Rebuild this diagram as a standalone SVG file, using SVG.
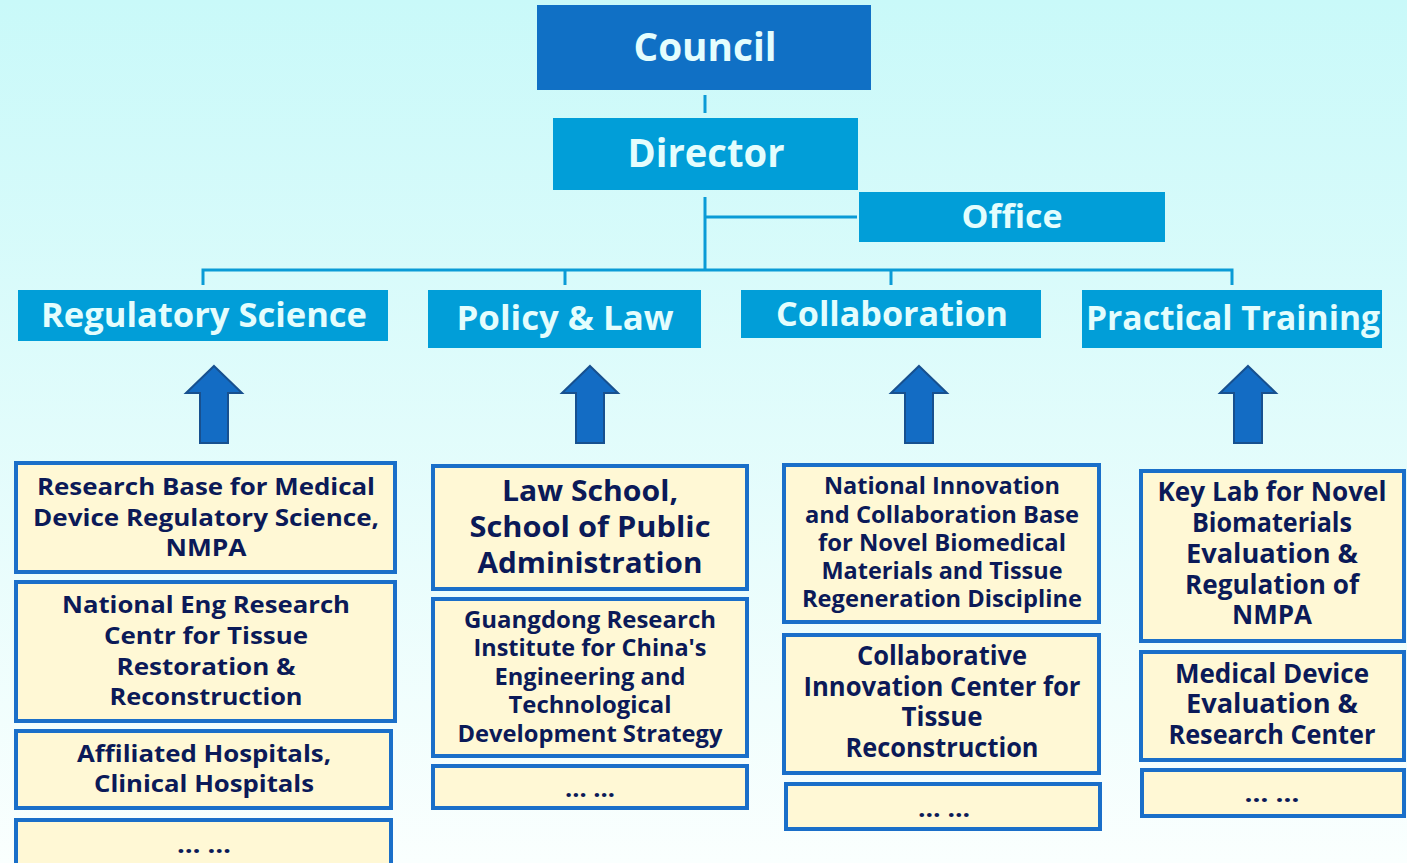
<svg xmlns="http://www.w3.org/2000/svg" width="1407" height="863" viewBox="0 0 1407 863">
<defs>
<linearGradient id="bg" x1="0" y1="0" x2="0" y2="1">
<stop offset="0" stop-color="#c9f9f9"/>
<stop offset="1" stop-color="#fafffe"/>
</linearGradient>
<style>
.hdr{fill:#019ed8}
.top{fill:#1070c5}
.ht{font-family:"Open Sans","Noto Sans",sans-serif;font-weight:bold;fill:#e4fdfd;text-anchor:middle;dominant-baseline:central}
.box{fill:#fff8d5;stroke:#1a6fc9;stroke-width:4}
.bt{font-family:"Open Sans","Noto Sans",sans-serif;font-weight:bold;fill:#0b1a58;text-anchor:middle;dominant-baseline:central}
.con{stroke:#0a9bd6;stroke-width:3;fill:none}
.arr{fill:#136cc4;stroke:#17508f;stroke-width:2}
</style>
</defs>
<rect width="1407" height="863" fill="url(#bg)"/>

<g id="connectors">
<line class="con" x1="705" y1="95" x2="705" y2="113"/>
<line class="con" x1="705" y1="197" x2="705" y2="270"/>
<line class="con" x1="705" y1="217" x2="857" y2="217"/>
<polyline class="con" points="203,285 203,270 1232,270 1232,285"/>
<line class="con" x1="565" y1="270" x2="565" y2="285"/>
<line class="con" x1="891" y1="270" x2="891" y2="285"/>
<path class="arr" d="M214,366 L242,393 L228,393 L228,443 L200,443 L200,393 L186,393 Z"/>
<path class="arr" d="M590,366 L618,393 L604,393 L604,443 L576,443 L576,393 L562,393 Z"/>
<path class="arr" d="M919,366 L947,393 L933,393 L933,443 L905,443 L905,393 L891,393 Z"/>
<path class="arr" d="M1248,366 L1276,393 L1262,393 L1262,443 L1234,443 L1234,393 L1220,393 Z"/>
</g>

<g id="council"><rect class="top" x="537" y="5" width="334" height="85"/><text class="ht" x="705" y="45" font-size="40" textLength="143" lengthAdjust="spacingAndGlyphs">Council</text></g>
<g id="director"><rect class="hdr" x="553" y="118" width="305" height="72"/><text class="ht" x="706" y="151" font-size="40" textLength="157" lengthAdjust="spacingAndGlyphs">Director</text></g>
<g id="office"><rect class="hdr" x="859" y="192" width="306" height="50"/><text class="ht" x="1012" y="215" font-size="33" textLength="101" lengthAdjust="spacingAndGlyphs">Office</text></g>

<g id="regulatory-science"><rect class="hdr" x="18" y="290" width="370" height="51"/><text class="ht" x="204" y="314" font-size="34" textLength="326" lengthAdjust="spacingAndGlyphs">Regulatory Science</text></g>
<g id="policy-law"><rect class="hdr" x="428" y="290" width="273" height="58"/><text class="ht" x="565" y="317" font-size="34" textLength="217" lengthAdjust="spacingAndGlyphs">Policy &amp; Law</text></g>
<g id="collaboration"><rect class="hdr" x="741" y="290" width="300" height="48"/><text class="ht" x="892" y="313" font-size="34" textLength="232" lengthAdjust="spacingAndGlyphs">Collaboration</text></g>
<g id="practical-training"><rect class="hdr" x="1082" y="290" width="300" height="58"/><text class="ht" x="1233" y="317" font-size="34" textLength="294" lengthAdjust="spacingAndGlyphs">Practical Training</text></g>

<g id="c1b1"><rect class="box" x="16" y="463" width="379" height="109"/>
<text class="bt" font-size="24" x="206" y="485" textLength="338" lengthAdjust="spacingAndGlyphs">Research Base for Medical</text>
<text class="bt" font-size="24" x="206" y="516" textLength="346" lengthAdjust="spacingAndGlyphs">Device Regulatory Science,</text>
<text class="bt" font-size="24" x="206" y="546" textLength="81" lengthAdjust="spacingAndGlyphs">NMPA</text></g>
<g id="c1b2"><rect class="box" x="16" y="582" width="379" height="139"/>
<text class="bt" font-size="24" x="206" y="603" textLength="288" lengthAdjust="spacingAndGlyphs">National Eng Research</text>
<text class="bt" font-size="24" x="206" y="634" textLength="204" lengthAdjust="spacingAndGlyphs">Centr for Tissue</text>
<text class="bt" font-size="24" x="206" y="665" textLength="179" lengthAdjust="spacingAndGlyphs">Restoration &amp;</text>
<text class="bt" font-size="24" x="206" y="695" textLength="193" lengthAdjust="spacingAndGlyphs">Reconstruction</text></g>
<g id="c1b3"><rect class="box" x="16" y="731" width="375" height="77"/>
<text class="bt" font-size="24" x="204" y="752" textLength="254" lengthAdjust="spacingAndGlyphs">Affiliated Hospitals,</text>
<text class="bt" font-size="24" x="204" y="782" textLength="220" lengthAdjust="spacingAndGlyphs">Clinical Hospitals</text></g>
<g id="c1b4"><rect class="box" x="16" y="820" width="375" height="60"/>
<text class="bt" font-size="24" x="204" y="843" textLength="54" lengthAdjust="spacingAndGlyphs">… …</text></g>

<g id="c2b1"><rect class="box" x="433" y="466" width="314" height="123"/>
<text class="bt" font-size="29" x="590" y="489" textLength="176" lengthAdjust="spacingAndGlyphs">Law School,</text>
<text class="bt" font-size="29" x="590" y="525" textLength="241" lengthAdjust="spacingAndGlyphs">School of Public</text>
<text class="bt" font-size="29" x="590" y="561" textLength="225" lengthAdjust="spacingAndGlyphs">Administration</text></g>
<g id="c2b2"><rect class="box" x="433" y="599" width="314" height="157"/>
<text class="bt" font-size="23" x="590" y="619" textLength="252" lengthAdjust="spacingAndGlyphs">Guangdong Research</text>
<text class="bt" font-size="23" x="590" y="647" textLength="233" lengthAdjust="spacingAndGlyphs">Institute for China's</text>
<text class="bt" font-size="23" x="590" y="676" textLength="191" lengthAdjust="spacingAndGlyphs">Engineering and</text>
<text class="bt" font-size="23" x="590" y="704" textLength="163" lengthAdjust="spacingAndGlyphs">Technological</text>
<text class="bt" font-size="23" x="590" y="733" textLength="265" lengthAdjust="spacingAndGlyphs">Development Strategy</text></g>
<g id="c2b3"><rect class="box" x="433" y="766" width="314" height="42"/>
<text class="bt" font-size="24" x="590" y="787" textLength="50" lengthAdjust="spacingAndGlyphs">… …</text></g>

<g id="c3b1"><rect class="box" x="784" y="465" width="315" height="157"/>
<text class="bt" font-size="23" x="942" y="485" textLength="236" lengthAdjust="spacingAndGlyphs">National Innovation</text>
<text class="bt" font-size="23" x="942" y="514" textLength="274" lengthAdjust="spacingAndGlyphs">and Collaboration Base</text>
<text class="bt" font-size="23" x="942" y="542" textLength="248" lengthAdjust="spacingAndGlyphs">for Novel Biomedical</text>
<text class="bt" font-size="23" x="942" y="570" textLength="241" lengthAdjust="spacingAndGlyphs">Materials and Tissue</text>
<text class="bt" font-size="23" x="942" y="598" textLength="280" lengthAdjust="spacingAndGlyphs">Regeneration Discipline</text></g>
<g id="c3b2"><rect class="box" x="784" y="635" width="315" height="138"/>
<text class="bt" font-size="26" x="942" y="655" textLength="170" lengthAdjust="spacingAndGlyphs">Collaborative</text>
<text class="bt" font-size="26" x="942" y="686" textLength="277" lengthAdjust="spacingAndGlyphs">Innovation Center for</text>
<text class="bt" font-size="26" x="942" y="716" textLength="81" lengthAdjust="spacingAndGlyphs">Tissue</text>
<text class="bt" font-size="26" x="942" y="747" textLength="193" lengthAdjust="spacingAndGlyphs">Reconstruction</text></g>
<g id="c3b3"><rect class="box" x="786" y="784" width="314" height="45"/>
<text class="bt" font-size="24" x="944" y="807" textLength="52" lengthAdjust="spacingAndGlyphs">… …</text></g>

<g id="c4b1"><rect class="box" x="1141" y="471" width="263" height="170"/>
<text class="bt" font-size="26" x="1272" y="491" textLength="229" lengthAdjust="spacingAndGlyphs">Key Lab for Novel</text>
<text class="bt" font-size="26" x="1272" y="522" textLength="160" lengthAdjust="spacingAndGlyphs">Biomaterials</text>
<text class="bt" font-size="26" x="1272" y="553" textLength="172" lengthAdjust="spacingAndGlyphs">Evaluation &amp;</text>
<text class="bt" font-size="26" x="1272" y="584" textLength="174" lengthAdjust="spacingAndGlyphs">Regulation of</text>
<text class="bt" font-size="26" x="1272" y="614" textLength="80" lengthAdjust="spacingAndGlyphs">NMPA</text></g>
<g id="c4b2"><rect class="box" x="1141" y="652" width="263" height="108"/>
<text class="bt" font-size="26" x="1272" y="673" textLength="194" lengthAdjust="spacingAndGlyphs">Medical Device</text>
<text class="bt" font-size="26" x="1272" y="703" textLength="172" lengthAdjust="spacingAndGlyphs">Evaluation &amp;</text>
<text class="bt" font-size="26" x="1272" y="734" textLength="207" lengthAdjust="spacingAndGlyphs">Research Center</text></g>
<g id="c4b3"><rect class="box" x="1142" y="770" width="262" height="46"/>
<text class="bt" font-size="24" x="1272" y="792" textLength="55" lengthAdjust="spacingAndGlyphs">… …</text></g>
</svg>
